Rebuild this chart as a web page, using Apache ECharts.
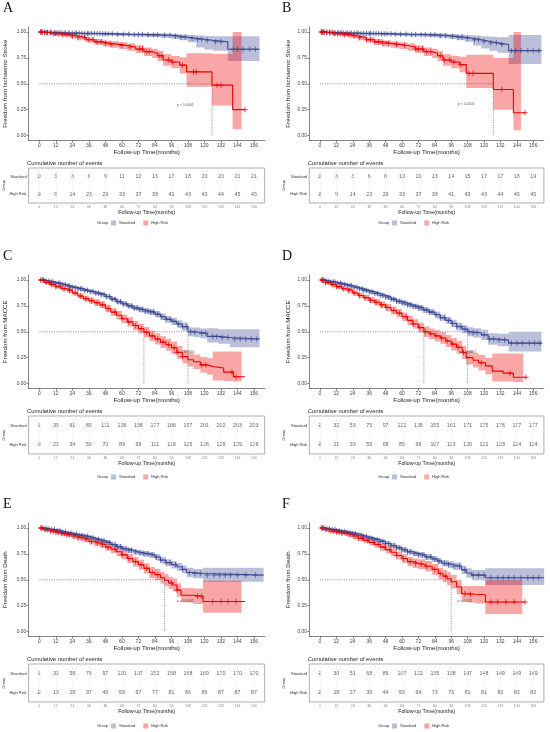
<!DOCTYPE html>
<html>
<head>
<meta charset="utf-8">
<script src="https://cdn.jsdelivr.net/npm/echarts@6/dist/echarts.min.js"></script>
<style>
  html, body { margin: 0; padding: 0; background: #fff; }
  #c { width: 550px; height: 732px; }
</style>
</head>
<body>
<div id="c"></div>
<script>
// ---- axis ticks ----
const xTicks = [0, 12, 24, 36, 48, 60, 72, 84, 96, 108, 120, 132, 144, 156];
const yTicks = [0, 0.25, 0.5, 0.75, 1];
const groups = ["Standard", "High Risk"];

// ---- A: ischaemic stroke ----
const tA_s = [0, 3, 10, 20, 30, 45, 55, 66, 78, 88, 96, 102, 108, 114, 120, 126, 137, 160];
const sA_s = [1, 0.995, 0.99, 0.988, 0.985, 0.982, 0.978, 0.975, 0.972, 0.968, 0.96, 0.95, 0.94, 0.93, 0.92, 0.905, 0.834, 0.834];
const loA_s = [1, 0.99, 0.982, 0.978, 0.973, 0.968, 0.962, 0.957, 0.952, 0.945, 0.933, 0.92, 0.9, 0.85, 0.83, 0.82, 0.72, null];
const hiA_s = [1, 1, 1, 0.998, 0.996, 0.994, 0.992, 0.99, 0.988, 0.986, 0.982, 0.977, 0.972, 0.967, 0.962, 0.958, 0.96, null];
const cA_s = [1, 2, 4, 5, 6, 8, 9, 11, 12, 13, 15, 16, 18, 19, 21, 22, 24, 26, 27, 29, 31, 33, 35, 36, 38, 40, 42, 44, 46, 48, 50, 53, 57, 61, 65, 69, 72, 75, 79, 83, 86, 91, 95, 99, 103, 106, 111, 115, 118, 122, 128, 132, 141, 144, 148, 153, 157];
const tA_h = [0, 4, 10, 16, 22, 28, 34, 40, 46, 52, 58, 64, 70, 76, 82, 86, 90, 96, 102, 107, 125.5, 140.5, 147, 149.5];
const sA_h = [1, 0.995, 0.985, 0.975, 0.962, 0.945, 0.925, 0.905, 0.89, 0.88, 0.87, 0.855, 0.835, 0.81, 0.795, 0.77, 0.73, 0.71, 0.68, 0.615, 0.487, 0.25, 0.25, 0.25];
const loA_h = [1, 0.985, 0.97, 0.957, 0.94, 0.92, 0.898, 0.876, 0.86, 0.848, 0.836, 0.818, 0.796, 0.768, 0.75, 0.72, 0.675, 0.65, 0.6, 0.47, 0.29, 0.06, null, null];
const hiA_h = [1, 1, 0.998, 0.99, 0.982, 0.968, 0.95, 0.932, 0.919, 0.91, 0.902, 0.89, 0.872, 0.85, 0.838, 0.818, 0.785, 0.768, 0.755, 0.795, 0.79, 1, null, null];
const cA_h = [1, 2, 4, 6, 8, 10, 12, 14, 17, 20, 24, 28, 33, 36, 39, 42, 45, 48, 52, 60, 66, 73, 75, 78, 80, 87, 89, 94, 97, 104, 112, 114, 129, 132, 149.5];
const rA_s = [0, 3, 3, 6, 9, 11, 12, 15, 17, 18, 20, 20, 21, 21];
const rA_h = [3, 9, 14, 23, 29, 33, 37, 38, 41, 43, 43, 44, 45, 45];

// ---- B: ischaemic stroke ----
const tB_s = [0, 3, 10, 20, 30, 45, 55, 66, 78, 86, 94, 100, 106, 112, 118, 124, 130, 138, 162];
const sB_s = [1, 0.995, 0.99, 0.988, 0.985, 0.982, 0.978, 0.975, 0.972, 0.965, 0.958, 0.95, 0.94, 0.925, 0.91, 0.895, 0.88, 0.82, 0.82];
const loB_s = [1, 0.99, 0.982, 0.978, 0.973, 0.968, 0.962, 0.957, 0.952, 0.942, 0.932, 0.92, 0.905, 0.87, 0.84, 0.82, 0.8, 0.69, null];
const hiB_s = [1, 1, 1, 0.998, 0.996, 0.994, 0.992, 0.99, 0.988, 0.985, 0.98, 0.975, 0.97, 0.965, 0.96, 0.955, 0.95, 0.97, null];
const cB_s = [1, 2, 3, 5, 7, 8, 10, 11, 13, 14, 16, 17, 19, 20, 22, 23, 25, 27, 28, 30, 32, 34, 36, 37, 39, 41, 43, 45, 47, 49, 52, 55, 59, 63, 67, 70, 74, 77, 81, 84, 88, 92, 97, 101, 104, 108, 113, 116, 120, 125, 129, 133, 140, 143, 147, 152, 156, 160];
const tB_h = [0, 4, 10, 16, 22, 28, 34, 40, 46, 52, 58, 64, 70, 76, 82, 86, 90, 96, 102, 107, 126.8, 141.5, 147, 150];
const sB_h = [1, 0.995, 0.985, 0.975, 0.962, 0.945, 0.925, 0.905, 0.89, 0.88, 0.87, 0.855, 0.835, 0.81, 0.795, 0.77, 0.73, 0.71, 0.685, 0.6, 0.445, 0.22, 0.22, 0.22];
const loB_h = [1, 0.985, 0.97, 0.957, 0.94, 0.92, 0.898, 0.876, 0.86, 0.848, 0.836, 0.818, 0.796, 0.768, 0.75, 0.72, 0.675, 0.65, 0.61, 0.46, 0.25, 0.05, null, null];
const hiB_h = [1, 1, 0.998, 0.99, 0.982, 0.968, 0.95, 0.932, 0.919, 0.91, 0.902, 0.89, 0.872, 0.85, 0.838, 0.818, 0.785, 0.768, 0.76, 0.78, 0.75, 1, null, null];
const cB_h = [1, 2, 3, 5, 7, 9, 11, 13, 15, 18, 21, 25, 29, 34, 37, 40, 43, 46, 50, 56, 62, 70, 72, 75, 78, 81, 88, 91, 95, 98, 103, 109, 112, 133, 150];
const rB_s = [0, 3, 3, 6, 8, 10, 10, 13, 14, 15, 17, 17, 18, 19];
const rB_h = [3, 9, 14, 23, 29, 33, 37, 38, 41, 43, 43, 44, 45, 45];

// ---- C: MACCE ----
const tC_s = [0, 4, 8, 12, 16, 20, 24, 28, 32, 36, 40, 44, 48, 52, 56, 60, 64, 68, 72, 76, 80, 84, 88, 92, 96, 100, 104, 108, 112, 117, 122, 130, 138.5, 160];
const sC_s = [1, 0.99, 0.98, 0.968, 0.955, 0.94, 0.928, 0.915, 0.9, 0.888, 0.874, 0.86, 0.84, 0.815, 0.79, 0.77, 0.75, 0.73, 0.715, 0.7, 0.69, 0.67, 0.645, 0.62, 0.6, 0.575, 0.55, 0.5, 0.495, 0.485, 0.455, 0.445, 0.43, 0.43];
const loC_s = [1, 0.984, 0.972, 0.958, 0.943, 0.927, 0.914, 0.9, 0.884, 0.871, 0.856, 0.841, 0.82, 0.794, 0.768, 0.747, 0.726, 0.705, 0.689, 0.673, 0.662, 0.64, 0.614, 0.587, 0.565, 0.538, 0.51, 0.457, 0.45, 0.438, 0.395, 0.385, 0.35, null];
const hiC_s = [1, 0.996, 0.988, 0.978, 0.967, 0.953, 0.942, 0.93, 0.916, 0.905, 0.892, 0.879, 0.86, 0.836, 0.812, 0.793, 0.774, 0.755, 0.741, 0.727, 0.718, 0.7, 0.676, 0.653, 0.635, 0.612, 0.59, 0.543, 0.54, 0.532, 0.535, 0.525, 0.525, null];
const cC_s = [2, 3, 5, 7, 9, 10, 12, 14, 15, 17, 19, 21, 22, 24, 26, 28, 30, 31, 33, 35, 37, 39, 41, 43, 45, 47, 49, 51, 53, 55, 57, 59, 61, 63, 65, 67, 69, 71, 73, 75, 77, 79, 81, 83, 86, 89, 92, 95, 98, 101, 104, 107, 110, 113, 118, 121, 126, 129, 133, 137, 142, 146, 150, 154, 158];
const tC_h = [0, 4, 8, 12, 16, 20, 24, 28, 32, 36, 40, 44, 48, 52, 56, 60, 64, 68, 72, 76, 80, 84, 88, 92, 96, 100, 104, 108, 112, 117, 122, 126, 134, 141, 147, 149.5];
const sC_h = [1, 0.975, 0.955, 0.935, 0.915, 0.9, 0.875, 0.845, 0.82, 0.8, 0.78, 0.76, 0.725, 0.69, 0.66, 0.625, 0.595, 0.56, 0.53, 0.495, 0.46, 0.43, 0.4, 0.375, 0.345, 0.3, 0.26, 0.23, 0.21, 0.18, 0.165, 0.15, 0.11, 0.065, 0.065, 0.065];
const loC_h = [1, 0.963, 0.94, 0.917, 0.895, 0.878, 0.851, 0.819, 0.792, 0.77, 0.748, 0.726, 0.689, 0.652, 0.62, 0.583, 0.551, 0.514, 0.482, 0.445, 0.408, 0.376, 0.344, 0.317, 0.285, 0.238, 0.196, 0.164, 0.14, 0.105, 0.085, 0.03, 0.025, 0.02, null, null];
const hiC_h = [1, 0.987, 0.97, 0.953, 0.935, 0.922, 0.899, 0.871, 0.848, 0.83, 0.812, 0.794, 0.761, 0.728, 0.7, 0.667, 0.639, 0.606, 0.578, 0.545, 0.512, 0.484, 0.456, 0.433, 0.405, 0.362, 0.324, 0.296, 0.28, 0.255, 0.245, 0.31, 0.31, 0.31, null, null];
const cC_h = [1, 3, 5, 7, 9, 12, 15, 18, 22, 26, 30, 34, 38, 42, 46, 50, 55, 60, 65, 70, 74, 78, 82, 86, 90, 94, 98, 100, 104, 118, 121, 140, 143];
const rC_s = [1, 35, 61, 85, 111, 138, 158, 177, 186, 197, 201, 202, 203, 203];
const rC_h = [3, 22, 34, 56, 70, 89, 99, 111, 119, 125, 126, 129, 129, 129];

// ---- D: MACCE ----
const tD_s = [0, 4, 8, 12, 16, 20, 24, 28, 32, 36, 40, 44, 48, 52, 56, 60, 64, 68, 72, 76, 80, 84, 88, 92, 96, 100, 104, 108, 112, 118, 123, 130, 138, 162];
const sD_s = [1, 0.99, 0.98, 0.97, 0.958, 0.945, 0.93, 0.915, 0.9, 0.885, 0.87, 0.852, 0.835, 0.815, 0.795, 0.778, 0.76, 0.745, 0.73, 0.71, 0.69, 0.665, 0.635, 0.61, 0.58, 0.55, 0.525, 0.5, 0.49, 0.47, 0.43, 0.42, 0.39, 0.39];
const loD_s = [1, 0.984, 0.972, 0.96, 0.946, 0.932, 0.916, 0.9, 0.884, 0.868, 0.852, 0.833, 0.815, 0.794, 0.773, 0.755, 0.736, 0.72, 0.704, 0.683, 0.662, 0.635, 0.604, 0.577, 0.545, 0.513, 0.485, 0.457, 0.445, 0.42, 0.375, 0.36, 0.31, null];
const hiD_s = [1, 0.996, 0.988, 0.98, 0.97, 0.958, 0.944, 0.93, 0.916, 0.902, 0.888, 0.871, 0.855, 0.836, 0.817, 0.801, 0.784, 0.77, 0.756, 0.737, 0.718, 0.695, 0.666, 0.643, 0.615, 0.587, 0.565, 0.543, 0.535, 0.52, 0.485, 0.48, 0.5, null];
const cD_s = [2, 3, 4, 6, 8, 10, 11, 13, 15, 16, 18, 20, 22, 23, 25, 27, 29, 31, 32, 34, 36, 38, 40, 42, 44, 46, 48, 50, 52, 54, 56, 58, 60, 62, 64, 66, 68, 70, 72, 74, 76, 78, 80, 82, 85, 88, 91, 94, 97, 100, 103, 106, 109, 112, 115, 120, 124, 127, 131, 135, 140, 144, 148, 153, 157, 161];
const tD_h = [0, 4, 8, 12, 16, 20, 24, 28, 32, 36, 40, 44, 48, 52, 56, 60, 64, 68, 72, 76, 80, 84, 88, 92, 96, 100, 104, 107, 112, 116, 121, 126, 134, 141.5, 148.8, 150.7];
const sD_h = [1, 0.975, 0.955, 0.935, 0.915, 0.9, 0.875, 0.85, 0.83, 0.805, 0.785, 0.76, 0.735, 0.705, 0.68, 0.645, 0.61, 0.575, 0.54, 0.5, 0.48, 0.46, 0.44, 0.41, 0.38, 0.35, 0.3, 0.25, 0.225, 0.2, 0.17, 0.12, 0.1, 0.06, 0.06, 0.06];
const loD_h = [1, 0.963, 0.94, 0.917, 0.895, 0.878, 0.851, 0.824, 0.802, 0.775, 0.753, 0.726, 0.699, 0.667, 0.64, 0.603, 0.566, 0.529, 0.492, 0.45, 0.428, 0.406, 0.384, 0.352, 0.32, 0.288, 0.236, 0.184, 0.155, 0.125, 0.09, 0.02, 0.02, 0.015, null, null];
const hiD_h = [1, 0.987, 0.97, 0.953, 0.935, 0.922, 0.899, 0.876, 0.858, 0.835, 0.817, 0.794, 0.771, 0.743, 0.72, 0.687, 0.654, 0.621, 0.588, 0.55, 0.532, 0.514, 0.496, 0.468, 0.44, 0.412, 0.364, 0.316, 0.295, 0.275, 0.25, 0.29, 0.29, 0.29, null, null];
const cD_h = [1, 2, 4, 6, 9, 12, 14, 17, 21, 25, 29, 33, 37, 41, 45, 49, 54, 58, 63, 68, 73, 77, 81, 85, 89, 93, 97, 101, 105, 118, 139, 150.7];
const rD_s = [1, 32, 53, 75, 97, 122, 139, 155, 161, 171, 175, 176, 177, 177];
const rD_h = [3, 21, 33, 55, 68, 85, 96, 107, 113, 120, 121, 123, 124, 124];

// ---- E: death ----
const tE_s = [0, 4, 8, 12, 16, 20, 24, 28, 32, 36, 40, 44, 48, 52, 56, 60, 64, 68, 72, 76, 80, 84, 88, 92, 96, 100, 104, 107, 112, 119, 163];
const sE_s = [1, 0.99, 0.985, 0.975, 0.96, 0.95, 0.94, 0.93, 0.92, 0.905, 0.89, 0.877, 0.86, 0.84, 0.82, 0.8, 0.785, 0.77, 0.76, 0.75, 0.74, 0.72, 0.69, 0.665, 0.645, 0.625, 0.6, 0.57, 0.56, 0.545, 0.545];
const loE_s = [1, 0.984, 0.977, 0.965, 0.948, 0.937, 0.926, 0.915, 0.904, 0.888, 0.872, 0.858, 0.84, 0.819, 0.798, 0.777, 0.761, 0.745, 0.734, 0.723, 0.712, 0.69, 0.658, 0.631, 0.609, 0.587, 0.56, 0.525, 0.515, 0.48, null];
const hiE_s = [1, 0.996, 0.993, 0.985, 0.972, 0.963, 0.954, 0.945, 0.936, 0.922, 0.908, 0.896, 0.88, 0.861, 0.842, 0.823, 0.809, 0.795, 0.786, 0.777, 0.768, 0.75, 0.722, 0.699, 0.681, 0.663, 0.64, 0.615, 0.605, 0.617, null];
const cE_s = [2, 4, 5, 7, 9, 11, 13, 15, 17, 19, 21, 23, 25, 27, 29, 31, 33, 35, 37, 39, 41, 43, 45, 47, 49, 51, 53, 55, 57, 59, 61, 63, 65, 67, 70, 73, 76, 79, 82, 85, 88, 92, 95, 99, 104, 109, 113, 117, 122, 127, 131, 135, 139, 144, 150, 157];
const tE_h = [0, 4, 8, 12, 16, 20, 24, 28, 32, 36, 40, 44, 48, 52, 56, 60, 64, 68, 72, 76, 80, 84, 88, 91, 94, 97, 100, 103, 108, 112, 119, 147, 149.5];
const sE_h = [1, 0.985, 0.97, 0.958, 0.945, 0.935, 0.92, 0.905, 0.89, 0.87, 0.855, 0.84, 0.815, 0.795, 0.77, 0.74, 0.705, 0.675, 0.645, 0.61, 0.57, 0.55, 0.52, 0.495, 0.47, 0.45, 0.4, 0.35, 0.35, 0.34, 0.29, 0.29, 0.29];
const loE_h = [1, 0.973, 0.955, 0.94, 0.925, 0.913, 0.896, 0.879, 0.862, 0.84, 0.823, 0.806, 0.779, 0.757, 0.73, 0.698, 0.661, 0.629, 0.597, 0.56, 0.518, 0.496, 0.464, 0.437, 0.41, 0.388, 0.335, 0.282, 0.28, 0.265, 0.18, null, null];
const hiE_h = [1, 0.997, 0.985, 0.976, 0.965, 0.957, 0.944, 0.931, 0.918, 0.9, 0.887, 0.874, 0.851, 0.833, 0.81, 0.782, 0.749, 0.721, 0.693, 0.66, 0.622, 0.604, 0.576, 0.553, 0.53, 0.512, 0.465, 0.418, 0.42, 0.415, 0.49, null, null];
const cE_h = [1, 2, 4, 6, 8, 10, 12, 14, 16, 18, 20, 22, 25, 28, 31, 34, 38, 42, 46, 50, 55, 60, 65, 70, 74, 78, 82, 86, 96, 100, 115, 118, 126, 132, 137, 143];
const rE_s = [1, 32, 58, 76, 97, 120, 137, 152, 158, 168, 169, 170, 170, 170];
const rE_h = [2, 19, 28, 37, 46, 58, 67, 77, 81, 86, 86, 87, 87, 87];

// ---- F: death ----
const tF_s = [0, 4, 8, 12, 16, 20, 24, 28, 32, 36, 40, 44, 48, 52, 56, 60, 64, 68, 72, 77, 82, 86, 89, 94, 98, 103.6, 107, 111, 121, 164];
const sF_s = [1, 0.99, 0.985, 0.975, 0.965, 0.955, 0.945, 0.93, 0.915, 0.9, 0.886, 0.87, 0.85, 0.83, 0.81, 0.79, 0.77, 0.755, 0.74, 0.72, 0.7, 0.68, 0.66, 0.645, 0.63, 0.595, 0.565, 0.545, 0.52, 0.52];
const loF_s = [1, 0.984, 0.977, 0.965, 0.953, 0.942, 0.93, 0.914, 0.898, 0.882, 0.867, 0.85, 0.829, 0.808, 0.787, 0.766, 0.745, 0.729, 0.713, 0.692, 0.671, 0.65, 0.628, 0.611, 0.594, 0.555, 0.52, 0.495, 0.45, null];
const hiF_s = [1, 0.996, 0.993, 0.985, 0.977, 0.968, 0.96, 0.946, 0.932, 0.918, 0.905, 0.89, 0.871, 0.852, 0.833, 0.814, 0.795, 0.781, 0.767, 0.748, 0.729, 0.71, 0.692, 0.679, 0.666, 0.635, 0.61, 0.595, 0.61, null];
const cF_s = [2, 3, 5, 7, 9, 11, 12, 14, 16, 18, 20, 22, 24, 26, 28, 30, 32, 34, 36, 38, 40, 42, 44, 46, 48, 50, 52, 54, 56, 58, 60, 62, 64, 66, 69, 72, 75, 78, 81, 84, 87, 91, 94, 98, 102, 106, 112, 116, 120, 125, 130, 134, 138, 142, 147, 152, 156, 160];
const tF_h = [0, 4, 8, 12, 16, 20, 24, 28, 32, 36, 40, 44, 48, 52, 56, 60, 64, 68, 72, 77, 82, 86.6, 90, 93, 96, 100, 103.6, 108, 114, 121, 148, 150];
const sF_h = [1, 0.985, 0.97, 0.96, 0.95, 0.935, 0.92, 0.9, 0.88, 0.86, 0.84, 0.815, 0.79, 0.765, 0.735, 0.705, 0.675, 0.66, 0.65, 0.63, 0.6, 0.56, 0.535, 0.51, 0.48, 0.43, 0.365, 0.36, 0.355, 0.285, 0.285, 0.285];
const loF_h = [1, 0.973, 0.955, 0.942, 0.93, 0.913, 0.896, 0.874, 0.852, 0.83, 0.808, 0.781, 0.754, 0.727, 0.695, 0.663, 0.631, 0.614, 0.602, 0.58, 0.548, 0.504, 0.476, 0.448, 0.415, 0.36, 0.29, 0.28, 0.27, 0.17, null, null];
const hiF_h = [1, 0.997, 0.985, 0.978, 0.97, 0.957, 0.944, 0.926, 0.908, 0.89, 0.872, 0.849, 0.826, 0.803, 0.775, 0.747, 0.719, 0.706, 0.698, 0.68, 0.652, 0.616, 0.594, 0.572, 0.545, 0.5, 0.44, 0.44, 0.44, 0.5, null, null];
const cF_h = [1, 2, 4, 6, 8, 10, 12, 14, 16, 19, 22, 25, 28, 31, 35, 39, 43, 47, 51, 56, 61, 66, 70, 74, 78, 84, 88, 92, 106, 110, 125, 130, 136, 142, 150];
const rF_s = [1, 30, 51, 68, 86, 107, 122, 135, 138, 147, 148, 149, 149, 149];
const rF_h = [2, 18, 27, 36, 44, 55, 64, 73, 76, 81, 81, 82, 82, 82];

// panel wiring (references into the arrays above)
const PANELS = [
  { tag: "A", ytitle: "Freedom from Ischaemic Stroke", p: "p < 0.0001", pAt: [106, 0.29],
    std: [tA_s, sA_s, loA_s, hiA_s, cA_s], hr: [tA_h, sA_h, loA_h, hiA_h, cA_h], risk: [rA_s, rA_h] },
  { tag: "B", ytitle: "Freedom from Ischaemic Stroke", p: "p < 0.0001", pAt: [107, 0.3],
    std: [tB_s, sB_s, loB_s, hiB_s, cB_s], hr: [tB_h, sB_h, loB_h, hiB_h, cB_h], risk: [rB_s, rB_h] },
  { tag: "C", ytitle: "Freedom from MACCE", p: "p < 0.0001", pAt: [107, 0.3],
    std: [tC_s, sC_s, loC_s, hiC_s, cC_s], hr: [tC_h, sC_h, loC_h, hiC_h, cC_h], risk: [rC_s, rC_h] },
  { tag: "D", ytitle: "Freedom from MACCE", p: "p < 0.0001", pAt: [108, 0.3],
    std: [tD_s, sD_s, loD_s, hiD_s, cD_s], hr: [tD_h, sD_h, loD_h, hiD_h, cD_h], risk: [rD_s, rD_h] },
  { tag: "E", ytitle: "Freedom from Death", p: "p = 0.0002", pAt: [106, 0.29],
    std: [tE_s, sE_s, loE_s, hiE_s, cE_s], hr: [tE_h, sE_h, loE_h, hiE_h, cE_h], risk: [rE_s, rE_h] },
  { tag: "F", ytitle: "Freedom from Death", p: "p = 0.011", pAt: [106, 0.29],
    std: [tF_s, sF_s, loF_s, hiF_s, cF_s], hr: [tF_h, sF_h, loF_h, hiF_h, cF_h], risk: [rF_s, rF_h] },
];

// ---- layout ----
const FONT = "'Liberation Sans', Arial, sans-serif";
const COL = { std: "#3B4992", hr: "#EE0000", stdBand: "rgba(59,73,146,0.35)", hrBand: "rgba(238,0,0,0.35)",
  stdKey: "#BABFD9", hrKey: "#F9A6A6", axis: "#333", text: "#333", dash: "#555" };
const COLS = [
  { left: 28.6, width: 236.1, letterX: 3, grpX: 97, nameGap: 20 },
  { left: 309.3, width: 234.6, letterX: 282, grpX: 378, nameGap: 18 },
];
const ROW_BASE = [32, 280, 528];       // pixel row of S = 1.00
const ROW_TABLE_H = [35, 38, 38];
const ROW_LEGEND = [223, 477, 726];
const PX_PER_UNIT = 103.5;

const CENSOR = "path://M5,0L5,10M0,5L10,5";

function survAt(t, s, x) {
  let v = s[0];
  for (let i = 0; i < t.length; i++) if (t[i] <= x) v = s[i];
  return v;
}
function median(t, s) {
  for (let i = 0; i < t.length; i++) if (s[i] <= 0.5) return t[i];
  return null;
}

const grids = [], xAxes = [], yAxes = [], series = [], graphics = [], legends = [];

function bandSeries(t, lo, hi, color, gi) {
  const items = [];
  for (let i = 0; i < t.length - 1; i++) if (lo[i] != null) items.push([t[i], t[i + 1], lo[i], hi[i]]);
  return {
    type: "custom", xAxisIndex: gi, yAxisIndex: gi, silent: true, z: 1, data: items,
    encode: { x: [0, 1], y: [2, 3] },
    renderItem(params, api) {
      if (params.dataIndex !== 0) return null;
      const up = [], dn = [];
      items.forEach(([t0, t1, l, h]) => {
        up.push(api.coord([t0, h]), api.coord([t1, h]));
        dn.push(api.coord([t0, l]), api.coord([t1, l]));
      });
      return { type: "polygon", shape: { points: up.concat(dn.reverse()) }, style: { fill: color } };
    },
  };
}

PANELS.forEach((P, k) => {
  const col = COLS[k % 2], r = Math.floor(k / 2), base = ROW_BASE[r];
  const gK = 2 * k, gT = 2 * k + 1;

  // --- KM plot grid ---
  grids.push({ left: col.left, width: col.width, top: base - 0.05 * PX_PER_UNIT, height: 1.1 * PX_PER_UNIT, outerBoundsMode: "none" });
  xAxes.push({
    type: "value", gridIndex: gK, min: -7.8, max: 163.8,
    axisLine: { show: true, onZero: false, lineStyle: { color: COL.axis, width: 0.6 } },
    axisTick: { show: true, customValues: xTicks, length: 2, lineStyle: { color: COL.axis, width: 0.6 } },
    axisLabel: { customValues: xTicks, fontSize: 5, color: "#444", margin: 2.5, fontFamily: FONT },
    splitLine: { show: false },
    name: "Follow-up Time(months)", nameLocation: "middle", nameGap: 8.5,
    nameTextStyle: { fontSize: 6.2, color: "#222", fontFamily: FONT },
  });
  yAxes.push({
    type: "value", gridIndex: gK, min: -0.05, max: 1.05,
    axisLine: { show: true, onZero: false, lineStyle: { color: COL.axis, width: 0.6 } },
    axisTick: { show: true, customValues: yTicks, length: 2, lineStyle: { color: COL.axis, width: 0.6 } },
    axisLabel: { customValues: yTicks, fontSize: 4.8, color: "#444", margin: 2.5, fontFamily: FONT,
      formatter: (v) => v.toFixed(2) },
    splitLine: { show: false },
    name: P.ytitle, nameLocation: "middle", nameGap: col.nameGap, nameRotate: 90,
    nameTextStyle: { fontSize: 6.2, color: "#222", fontFamily: FONT },
  });

  // --- risk table grid ---
  grids.push({ left: col.left, width: col.width, top: base + 136, height: ROW_TABLE_H[r],
    show: true, borderColor: "#999", borderWidth: 0.8, outerBoundsMode: "none" });
  xAxes.push({
    type: "value", gridIndex: gT, min: -7.8, max: 163.8,
    axisLine: { show: false }, axisTick: { show: false }, splitLine: { show: false },
    axisLabel: { customValues: xTicks, fontSize: 3.6, color: "#888", margin: 2, fontFamily: FONT },
    name: "Follow-up Time(months)", nameLocation: "middle", nameGap: 5.5,
    nameTextStyle: { fontSize: 5.3, color: "#222", fontFamily: FONT },
  });
  yAxes.push({
    type: "category", gridIndex: gT, data: ["High Risk", "Standard"],
    axisLine: { show: false },
    axisTick: { show: true, alignWithLabel: true, length: 1.5, lineStyle: { color: "#555", width: 0.5 } },
    axisLabel: { fontSize: 4, color: "#333", margin: 2, fontFamily: FONT },
    name: "Group", nameLocation: "middle", nameRotate: 90, nameGap: 22,
    nameTextStyle: { fontSize: 4, color: "#333", fontFamily: FONT },
  });

  // --- bands, curves, censor marks ---
  const curves = [[P.std, COL.std, COL.stdBand, groups[0]], [P.hr, COL.hr, COL.hrBand, groups[1]]];
  curves.forEach(([d, c, bc]) => series.push(bandSeries(d[0], d[2], d[3], bc, gK)));
  curves.forEach(([d, c, bc, nm]) => {
    const [t, s, , , cens] = d;
    series.push({ type: "line", name: nm, xAxisIndex: gK, yAxisIndex: gK, step: "end", showSymbol: false,
      silent: true, z: 3, data: t.map((x, i) => [x, s[i]]), lineStyle: { color: c, width: 1.1 }, itemStyle: { color: c } });
    series.push({ type: "scatter", name: nm + " censor", xAxisIndex: gK, yAxisIndex: gK, silent: true, z: 4,
      symbol: CENSOR, symbolSize: 5.5, data: cens.map((x) => [x, survAt(t, s, x)]),
      itemStyle: { color: "transparent", borderColor: c, borderWidth: 0.9 } });
  });

  // --- median lines ---
  const meds = [median(P.std[0], P.std[1]), median(P.hr[0], P.hr[1])].filter((m) => m != null);
  const dashStyle = { color: COL.dash, width: 0.6, type: [1.2, 1.2] };
  const segs = [[[0, 0.5], [Math.max(...meds), 0.5]]].concat(meds.map((m) => [[m, 0.5], [m, 0]]));
  segs.forEach((sg) => series.push({ type: "line", xAxisIndex: gK, yAxisIndex: gK, data: sg, showSymbol: false,
    silent: true, z: 5, lineStyle: dashStyle }));

  // --- p value ---
  series.push({ type: "scatter", xAxisIndex: gK, yAxisIndex: gK, symbolSize: 0, silent: true, z: 6, data: [P.pAt],
    label: { show: true, position: "inside", formatter: P.p, fontSize: 3.6, color: "#333", fontFamily: FONT } });

  // --- risk table numbers ---
  groups.forEach((g, gi) => {
    const vals = P.risk[gi];
    const sr = { type: "scatter", xAxisIndex: gT, yAxisIndex: gT, symbolSize: 0, silent: true,
      data: xTicks.map((x, i) => [x, g, vals[i]]),
      label: { show: true, position: "inside", formatter: (p) => p.value[2], fontSize: 5.3, color: "#333", fontFamily: FONT } };
    if (gi === 0) sr.markLine = { silent: true, symbol: "none", label: { show: false }, animation: false,
      lineStyle: { color: "#ececec", width: 0.5, type: "solid" }, data: xTicks.map((x) => ({ xAxis: x })) };
    series.push(sr);
  });

  // --- texts ---
  graphics.push({ type: "text", left: col.letterX, top: base - 31,
    style: { text: P.tag, fontSize: 14, fontFamily: "'Liberation Serif', 'DejaVu Serif', serif", fill: "#111" } });
  graphics.push({ type: "text", left: col.left - 1.5, top: base + 128,
    style: { text: "Cumulative number of events", fontSize: 5.8, fontFamily: FONT, fill: "#222" } });
  graphics.push({ type: "text", left: col.grpX, top: ROW_LEGEND[r] - 2.5,
    style: { text: "Group", fontSize: 4, fontFamily: FONT, fill: "#333" } });

  legends.push({
    left: col.grpX + 14, top: ROW_LEGEND[r] - 2.5, padding: 0, itemWidth: 5, itemHeight: 5, itemGap: 8,
    selectedMode: false, textStyle: { fontSize: 4, color: "#333", fontFamily: FONT, padding: [0, 0, 0, -2] },
    data: [
      { name: groups[0], icon: "rect", itemStyle: { color: COL.stdKey } },
      { name: groups[1], icon: "rect", itemStyle: { color: COL.hrKey } },
    ],
  });
});

const chart = echarts.init(document.getElementById("c"), null, { renderer: "canvas" });
chart.setOption({
  backgroundColor: "#fff",
  animation: false,
  textStyle: { fontFamily: FONT },
  grid: grids, xAxis: xAxes, yAxis: yAxes,
  legend: legends, graphic: graphics, series,
});
</script>
</body>
</html>
